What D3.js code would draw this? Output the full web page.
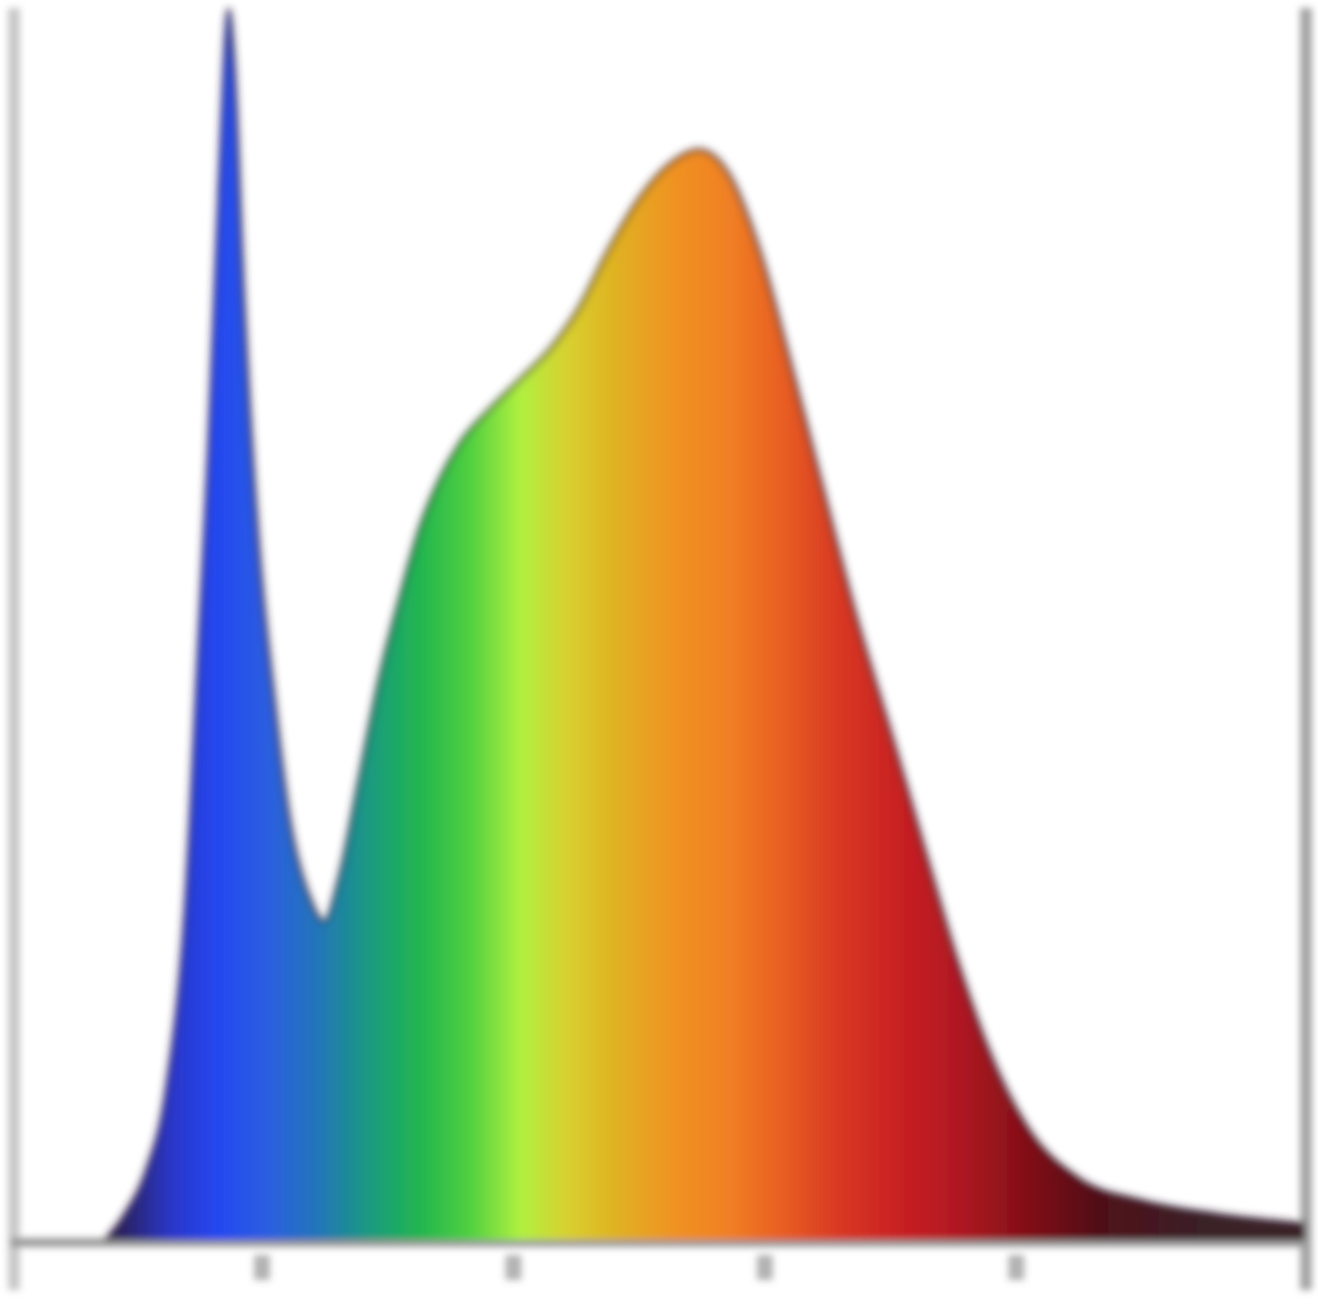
<!DOCTYPE html>
<html>
<head>
<meta charset="utf-8">
<script src="https://cdn.jsdelivr.net/npm/d3@7"></script>
<style>
	body { margin: 0; background: #fff; }
</style>
</head>
<body>
<script>
// wavelength (nm) and relative intensity (%)
var wavelengths = [388, 396, 404, 412, 420, 425, 429, 433, 437, 439, 443, 449, 455, 461, 469, 475, 481, 489, 497, 505, 513, 521, 529, 541, 553, 565, 576, 588, 600, 612, 624, 636, 648, 660, 672, 686, 702, 714, 727, 740, 755, 775, 800, 830, 865];
var intensity = [0, 2.2, 5.5, 12, 27.9, 48.1, 64.3, 84.5, 99.8, 95.8, 76.4, 56.2, 44.1, 34.4, 27.9, 25.9, 29.5, 37.6, 45.7, 52.1, 57.8, 61.8, 64.7, 67.5, 69.9, 72.4, 75.6, 80.4, 84.5, 87.3, 88.5, 86.5, 80.4, 71.5, 62, 51, 40, 31.5, 22.5, 15, 9, 5, 3.2, 2.1, 1.3];
var tickValues = [450, 550, 650, 750];

var spectrum = [
	[390, "#2a1e4a"], [414, "#2a36c8"], [433, "#2448f0"], [453, "#2b5fe0"],
	[473, "#2376b8"], [493, "#1a9a80"], [513, "#22b550"], [533, "#50d040"],
	[553, "#b0f040"], [572, "#d8d030"], [592, "#e0b020"], [616, "#f09020"],
	[636, "#f08025"], [656, "#e86020"], [680, "#d83820"], [704, "#c82020"],
	[727, "#b01822"], [751, "#881018"], [783, "#501018"], [823, "#3a2028"]
];

var width = 1318;
var height = 1313;

var data = wavelengths.map((w, i) => ({ w: w, v: intensity[i] }));

var svg = d3.select("body")
	.append("svg")
	.attr("width", width)
	.attr("height", height);

var x = d3.scaleLinear().domain([350, 865]).range([10, 1305]);
var y = d3.scaleLinear().domain([0, 100]).range([1240, 8]);

var defs = svg.append("defs");

var grad = defs.append("linearGradient")
	.attr("id", "spec")
	.attr("gradientUnits", "userSpaceOnUse")
	.attr("x1", 0).attr("x2", width)
	.attr("y1", 0).attr("y2", 0);

grad.selectAll("stop")
	.data(spectrum)
	.join("stop")
	.attr("offset", (d) => x(d[0]) / width)
	.attr("stop-color", (d) => d[1]);

defs.append("filter")
	.attr("id", "soft")
	.attr("x", "-5%").attr("y", "-5%")
	.attr("width", "110%").attr("height", "110%")
	.append("feGaussianBlur")
	.attr("stdDeviation", 3.5);

var g = svg.append("g").attr("filter", "url(#soft)");

// frame lines
g.append("line")
	.attr("x1", 14).attr("x2", 14)
	.attr("y1", 8).attr("y2", 1290)
	.style("stroke", "#c8c8c8")
	.style("stroke-width", 12);

g.append("line")
	.attr("x1", 1306).attr("x2", 1306)
	.attr("y1", 8).attr("y2", 1290)
	.style("stroke", "#a4a4a4")
	.style("stroke-width", 12);

var axis = g.append("g")
	.attr("transform", "translate(0," + 1242 + ")")
	.call(d3.axisBottom(x).tickValues(tickValues).tickSize(0).tickFormat(""));

axis.select(".domain")
	.style("stroke", "#999")
	.style("stroke-width", 9);

axis.selectAll(".tick")
	.append("line")
	.attr("y1", 13).attr("y2", 38)
	.style("stroke", "#666")
	.style("stroke-opacity", 0.5)
	.style("stroke-width", 16);

var area = d3.area()
	.x((d) => x(d.w))
	.y0(y(0))
	.y1((d) => y(d.v))
	.curve(d3.curveMonotoneX);

var line = d3.line()
	.x((d) => x(d.w))
	.y((d) => y(d.v))
	.curve(d3.curveMonotoneX);

g.append("path")
	.datum(data)
	.attr("d", area)
	.style("fill", "url(#spec)");

g.append("path")
	.datum(data)
	.attr("d", line)
	.style("fill", "none")
	.style("stroke", "rgba(50,30,50,0.45)")
	.style("stroke-width", 7);
</script>
</body>
</html>
